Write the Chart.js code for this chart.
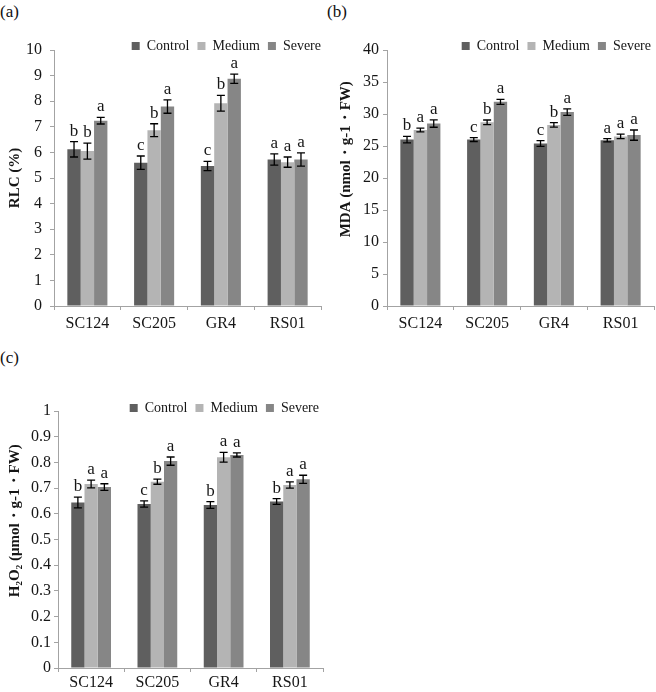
<!DOCTYPE html>
<html>
<head>
<meta charset="utf-8">
<script src="https://cdn.jsdelivr.net/npm/chart.js@4.4.1/dist/chart.umd.min.js"></script>
<style>
  body { margin: 0; background: #fff; }
  #wrap { position: relative; width: 656px; height: 692px; font-family: "Liberation Serif", "Times New Roman", serif; }
  canvas { position: absolute; }
  .tag { position: absolute; font-size: 17px; color: #111; line-height: 20px; }
</style>
</head>
<body>
<div id="wrap">
  <div class="tag" style="left:0;top:2px">(a)</div>
  <div class="tag" style="left:327px;top:2px">(b)</div>
  <div class="tag" style="left:0;top:348px">(c)</div>
  <canvas id="chartA" width="330" height="340" style="left:0;top:0"></canvas>
  <canvas id="chartB" width="326" height="340" style="left:330px;top:0"></canvas>
  <canvas id="chartC" width="330" height="352" style="left:0;top:340px"></canvas>
</div>
<script>
const categories = ["SC124", "SC205", "GR4", "RS01"];
const seriesNames = ["Control", "Medium", "Severe"];
const seriesColors = ["#5f5f5f", "#b4b4b4", "#868686"];

// (a) RLC (%)
const rlcControl = [6.12, 5.60, 5.47, 5.72];
const rlcMedium = [6.05, 6.87, 7.92, 5.62];
const rlcSevere = [7.24, 7.79, 8.88, 5.72];
const rlcControlErr = [0.30, 0.26, 0.18, 0.22];
const rlcMediumErr = [0.31, 0.25, 0.31, 0.20];
const rlcSevereErr = [0.13, 0.26, 0.18, 0.26];
const rlcControlSig = ["b", "c", "c", "a"];
const rlcMediumSig = ["b", "b", "b", "a"];
const rlcSevereSig = ["a", "a", "a", "a"];
const rlcTicks = [0, 1, 2, 3, 4, 5, 6, 7, 8, 9, 10];

// (b) MDA
const mdaControl = [26.0, 26.0, 25.4, 25.9];
const mdaMedium = [27.5, 28.7, 28.3, 26.5];
const mdaSevere = [28.5, 31.9, 30.3, 26.7];
const mdaControlErr = [0.5, 0.3, 0.45, 0.26];
const mdaMediumErr = [0.3, 0.36, 0.35, 0.35];
const mdaSevereErr = [0.57, 0.4, 0.5, 0.8];
const mdaControlSig = ["b", "c", "c", "a"];
const mdaMediumSig = ["a", "b", "b", "a"];
const mdaSevereSig = ["a", "a", "a", "a"];
const mdaTicks = [0, 5, 10, 15, 20, 25, 30, 35, 40];

// (c) H2O2
const h2o2Control = [0.644, 0.638, 0.634, 0.648];
const h2o2Medium = [0.716, 0.725, 0.820, 0.712];
const h2o2Severe = [0.704, 0.805, 0.829, 0.734];
const h2o2ControlErr = [0.021, 0.012, 0.013, 0.011];
const h2o2MediumErr = [0.015, 0.010, 0.019, 0.012];
const h2o2SevereErr = [0.013, 0.016, 0.008, 0.016];
const h2o2ControlSig = ["b", "c", "b", "b"];
const h2o2MediumSig = ["a", "b", "a", "a"];
const h2o2SevereSig = ["a", "a", "a", "a"];
const h2o2Ticks = [0, 0.1, 0.2, 0.3, 0.4, 0.5, 0.6, 0.7, 0.8, 0.9, 1];

const fontFam = "'Liberation Serif', 'Times New Roman', serif";
const axisGray = "#a3a3a3";
const textColor = "#161616";
Chart.defaults.font.family = fontFam;
Chart.defaults.color = textColor;

// error bars + significance letters
const errorBars = {
  id: "errorBars",
  afterDatasetsDraw(chart) {
    const ctx = chart.ctx;
    const y = chart.scales.y;
    ctx.save();
    ctx.strokeStyle = "#000";
    ctx.lineWidth = 1.3;
    ctx.fillStyle = textColor;
    ctx.font = "17px " + fontFam;
    ctx.textAlign = "center";
    ctx.textBaseline = "bottom";
    chart.data.datasets.forEach((ds, i) => {
      chart.getDatasetMeta(i).data.forEach((bar, j) => {
        const hi = y.getPixelForValue(ds.data[j] + ds.errors[j]);
        const lo = y.getPixelForValue(ds.data[j] - ds.errors[j]);
        ctx.beginPath();
        ctx.moveTo(bar.x, hi); ctx.lineTo(bar.x, lo);
        ctx.moveTo(bar.x - 4, hi); ctx.lineTo(bar.x + 4, hi);
        ctx.moveTo(bar.x - 4, lo); ctx.lineTo(bar.x + 4, lo);
        ctx.stroke();
        ctx.fillText(ds.letters[j], bar.x, hi - 2);
      });
    });
    ctx.restore();
  }
};

// the legend sits just above the plot, flush right with the axis
const legendShift = {
  id: "legendShift",
  afterLayout(chart, args, opts) {
    const lg = chart.legend;
    lg.left += opts.dx; lg.right += opts.dx;
    lg.top += opts.dy; lg.bottom += opts.dy;
  }
};

function drawPanel(id, vals, errs, sigs, ticks, title, p) {
  const datasets = seriesNames.map((name, i) => ({
    label: name,
    data: vals[i],
    errors: errs[i],
    letters: sigs[i],
    backgroundColor: seriesColors[i],
    borderWidth: 0,
    categoryPercentage: 0.6,
    barPercentage: 1.0
  }));
  return new Chart(document.getElementById(id), {
    type: "bar",
    data: { labels: categories, datasets: datasets },
    plugins: [errorBars, legendShift],
    options: {
      responsive: false,
      animation: false,
      devicePixelRatio: 1,
      layout: { padding: { top: p.top, right: p.right, bottom: 0, left: 0 } },
      plugins: {
        tooltip: { enabled: false },
        legendShift: { dx: p.dx, dy: p.dy },
        legend: {
          position: "top",
          align: "end",
          labels: { boxWidth: 8, boxHeight: 8, padding: 8, color: textColor, font: { size: 14 } }
        }
      },
      scales: {
        x: {
          grid: { drawOnChartArea: false, color: axisGray, tickLength: 4 },
          border: { color: axisGray },
          ticks: { color: textColor, font: { size: 16 }, padding: p.xPad },
          afterFit: s => { s.height = p.xH; }
        },
        y: {
          min: ticks[0],
          max: ticks[ticks.length - 1],
          afterBuildTicks: s => { s.ticks = ticks.map(v => ({ value: v })); },
          grid: { drawOnChartArea: false, color: axisGray, tickLength: 4 },
          border: { color: axisGray },
          ticks: { color: textColor, font: { size: 16 }, padding: p.yPad, callback: v => String(v) },
          title: {
            display: true,
            text: title,
            color: textColor,
            font: { size: 15, weight: "bold" },
            padding: { top: p.titlePad, bottom: 0 }
          },
          afterFit: s => { s.width = p.yW; }
        }
      }
    }
  });
}

drawPanel("chartA",
  [rlcControl, rlcMedium, rlcSevere],
  [rlcControlErr, rlcMediumErr, rlcSevereErr],
  [rlcControlSig, rlcMediumSig, rlcSevereSig],
  rlcTicks, "RLC (%)",
  { top: 18, right: 9, dx: 8, dy: 13, yW: 54, xH: 34, xPad: 4, yPad: 8, titlePad: 6 });

drawPanel("chartB",
  [mdaControl, mdaMedium, mdaSevere],
  [mdaControlErr, mdaMediumErr, mdaSevereErr],
  [mdaControlSig, mdaMediumSig, mdaSevereSig],
  mdaTicks, "\u2002\u2002\u2002\u2002\u2002MDA (nmol\u30FBg-1\u30FBFW)",
  { top: 18, right: 2, dx: 5, dy: 13, yW: 57, xH: 34, xPad: 4, yPad: 4, titlePad: 7 });

drawPanel("chartC",
  [h2o2Control, h2o2Medium, h2o2Severe],
  [h2o2ControlErr, h2o2MediumErr, h2o2SevereErr],
  [h2o2ControlSig, h2o2MediumSig, h2o2SevereSig],
  h2o2Ticks, "\u2002\u2002\u2002\u2002\u2002H\u2082O\u2082 (\u03BCmol\u30FBg-1\u30FBFW)",
  { top: 39, right: 7, dx: 4, dy: 14, yW: 58, xH: 24, xPad: 1, yPad: 3, titlePad: 6 });
</script>
</body>
</html>
